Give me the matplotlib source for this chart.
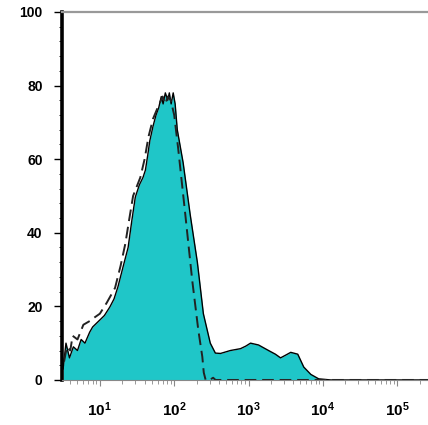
import matplotlib
matplotlib.use("Agg")
import matplotlib.pyplot as plt
from matplotlib.ticker import FixedLocator, LogLocator, NullFormatter, MultipleLocator

plt.rcParams["font.family"] = ["Liberation Sans", "DejaVu Sans"]
plt.rcParams["mathtext.fontset"] = "custom"
plt.rcParams["mathtext.bf"] = "Liberation Sans:bold"
plt.rcParams["mathtext.rm"] = "Liberation Sans:bold"

# stained sample (filled histogram)
stain_x = [3.2, 3.5, 3.9, 4.4, 5.0, 5.6, 6.3, 7.3, 8.0, 10, 11.5, 13.6, 15.5,
           17.5, 20.5, 24, 27, 30, 34, 38, 41, 44, 47, 52, 57, 62, 67, 71, 76,
           82, 86, 91, 97, 103, 110, 132, 164, 205, 247, 306, 358, 420, 571,
           780, 920, 1065, 1365, 1860, 2300, 2700, 3200, 3700, 4600, 5540,
           6900, 8800, 12800, 30000, 100000, 260000]
stain_y = [3, 10, 6, 9, 8, 11, 10, 13, 14.4, 16.3, 17.5, 19.8, 22,
           25.3, 30.7, 36, 43.5, 49.7, 53, 55, 57, 61, 65, 69, 72, 74, 77, 75, 78,
           76, 78, 75, 78, 75, 68, 59, 45, 32, 18, 10, 7.3, 7.2, 8,
           8.5, 9.2, 10, 9.5, 8, 7, 6, 6.8, 7.5, 7, 3.5,
           1.5, 0.3, 0, 0, 0, 0]

# isotype control (dashed)
ctrl_x = [3.3, 3.6, 4.0, 4.3, 5.0, 6.0, 7.3, 8.5, 10, 12.4, 16, 19, 22, 25,
          28, 35, 40, 45, 52, 60, 70, 76, 82, 90, 100, 113, 141, 175, 211, 239,
          250, 265, 300, 334, 360, 1000, 10000, 260000]
ctrl_y = [5, 9, 8, 12, 11, 15, 16, 17, 18, 21, 25, 31, 37, 44,
          50, 55, 60, 66, 71, 74, 77, 75, 77, 76, 72, 63, 45, 27, 13.6, 6.3,
          2, 0, 0, 0.6, 0, 0, 0, 0]

x_ticks = [10, 100, 1000, 10000, 100000]
x_tick_labels = [r"$\mathbf{10^{1}}$", r"$\mathbf{10^{2}}$", r"$\mathbf{10^{3}}$",
                 r"$\mathbf{10^{4}}$", r"$\mathbf{10^{5}}$"]
y_ticks = [0, 20, 40, 60, 80, 100]

fig = plt.figure(figsize=(4.28, 4.25), dpi=100)
ax = fig.add_axes([0.145, 0.106, 0.855, 0.866])

ax.fill_between(stain_x, stain_y, 0, color="#1fc6c8", lw=0)
ax.plot(stain_x, stain_y, color="black", lw=1.0, clip_on=False)
ax.plot(ctrl_x, ctrl_y, color="#222222", lw=1.4, ls=(0, (6, 3)))

ax.set_xscale("log")
ax.set_xlim(3.1, 2.6e5)
ax.set_ylim(0, 100)

ax.xaxis.set_major_locator(FixedLocator(x_ticks))
ax.set_xticklabels(x_tick_labels)
ax.xaxis.set_minor_locator(LogLocator(base=10, subs=range(2, 10)))
ax.xaxis.set_minor_formatter(NullFormatter())
ax.set_yticks(y_ticks)
ax.yaxis.set_minor_locator(MultipleLocator(4))

ax.tick_params(axis="x", which="major", length=4, width=0.8, color="#888888",
               pad=11, labelsize=11)
ax.tick_params(axis="x", which="minor", length=3, width=0.6, color="#888888")
ax.tick_params(axis="y", which="major", length=6, width=1.0, pad=8,
               labelsize=10)
ax.tick_params(axis="y", which="minor", length=2, width=0.6)
for lab in ax.get_yticklabels():
    lab.set_fontweight("bold")

ax.spines["left"].set_linewidth(2.6)
ax.spines["left"].set_color("black")
ax.spines["top"].set_linewidth(1.6)
ax.spines["top"].set_color("#999999")
ax.spines["bottom"].set_linewidth(0.8)
ax.spines["bottom"].set_color("#888888")
ax.spines["right"].set_visible(False)

fig.savefig("out.png", dpi=100)
